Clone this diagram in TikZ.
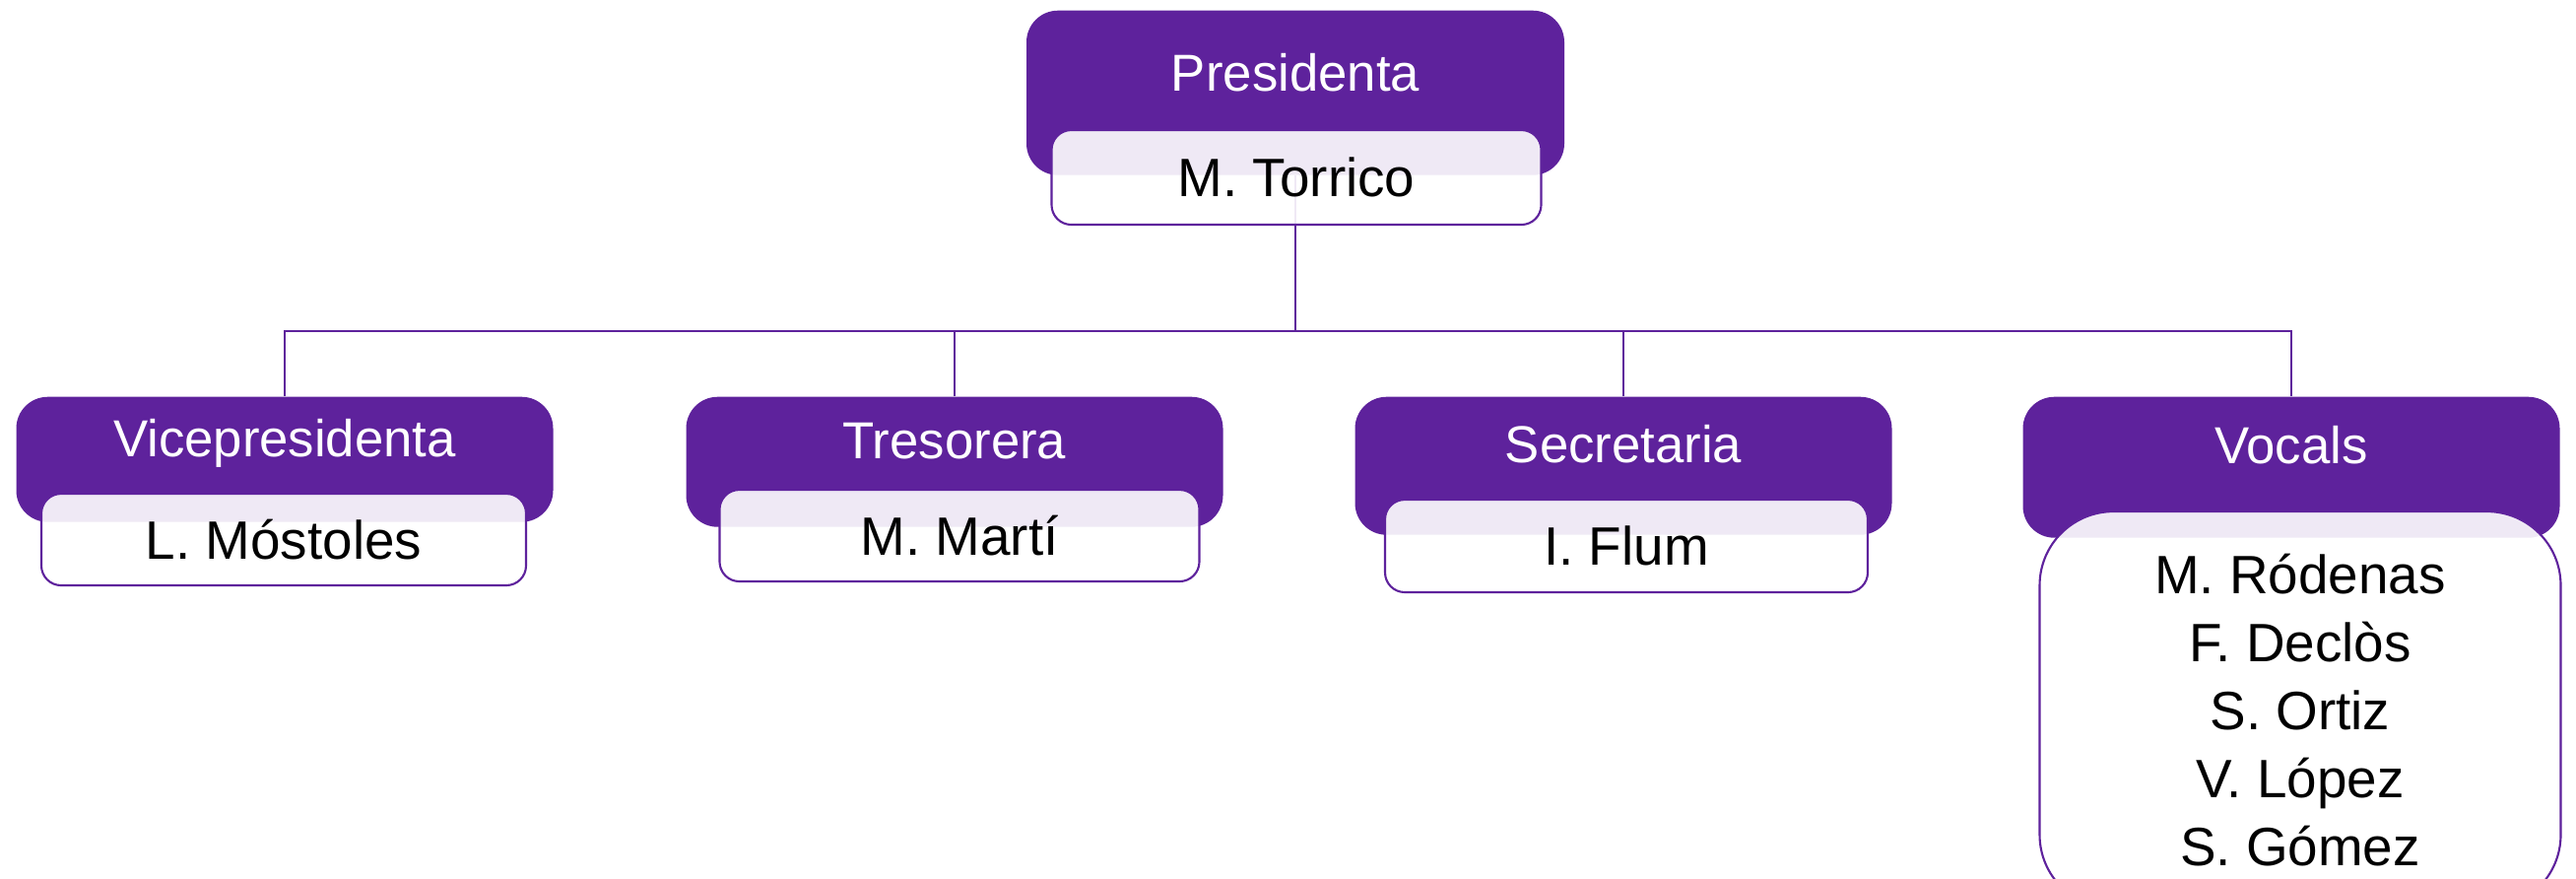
\documentclass[tikz,border=0pt]{standalone}
\usepackage{fontspec}
\setmainfont{Liberation Sans}
\definecolor{orgpurple}{HTML}{5E229C}
\begin{document}
\begin{tikzpicture}[
      every node/.style={font=\fontsize{15}{18}\selectfont},
      rolebox/.style={fill=orgpurple, text=white, rounded corners=0.32cm, anchor=north, minimum width=5.45cm, text height=0.4cm, text depth=0.45cm, inner ysep=0.25cm},
      namebox/.style={draw=orgpurple, line width=0.6pt, fill=white, fill opacity=0.9, text opacity=1, rounded corners=0.2cm, minimum width=4.92cm, minimum height=0.93cm, align=center, font=\fontsize{15.6}{19.7}\selectfont},
      link/.style={draw=orgpurple, line width=0.6pt},
    ]

    \useasboundingbox (0,-8.91) rectangle (26.15,0);
    \clip (0,-8.91) rectangle (26.15,0);

    \node[rolebox, text depth=0.43cm, inner ysep=0.42cm, minimum width=5.46cm] (pres) at (13.15,-0.10) {Presidenta};
    \node[rolebox, text height=0.36cm, text depth=0.41cm] (vice) at (2.89,-4.02) {Vicepresidenta};
    \node[rolebox, text height=0.38cm, text depth=0.44cm] (treso) at (9.69,-4.02) {Tresorera};
    \node[rolebox, text height=0.42cm, text depth=0.48cm] (secr) at (16.48,-4.02) {Secretaria};
    \node[rolebox, text height=0.43cm, text depth=0.50cm] (vocals) at (23.26,-4.02) {Vocals};

    \foreach \child in {vice,treso,secr,vocals}
      \draw[link] (pres.south) -- ++(0,-1.58) -| (\child.north);

    \node[namebox, minimum width=4.97cm, minimum height=0.96cm] (torrico) at (13.16,-1.80) {M. Torrico};
    \node[namebox] (mostoles) at (2.88,-5.475) {L. Móstoles};
    \node[namebox, minimum width=4.87cm] (marti) at (9.74,-5.435) {M. Martí};
    \node[namebox, minimum width=4.90cm, minimum height=0.94cm] (flum) at (16.51,-5.54) {I. Flum};
    \node[namebox, anchor=north, minimum width=5.29cm, minimum height=4.03cm, rounded corners=0.75cm] (vocallist) at (23.35,-5.18)
      {M. Ródenas\\ F. Declòs\\ S. Ortiz\\ V. López\\ S. Gómez};

  \end{tikzpicture}
\end{document}
